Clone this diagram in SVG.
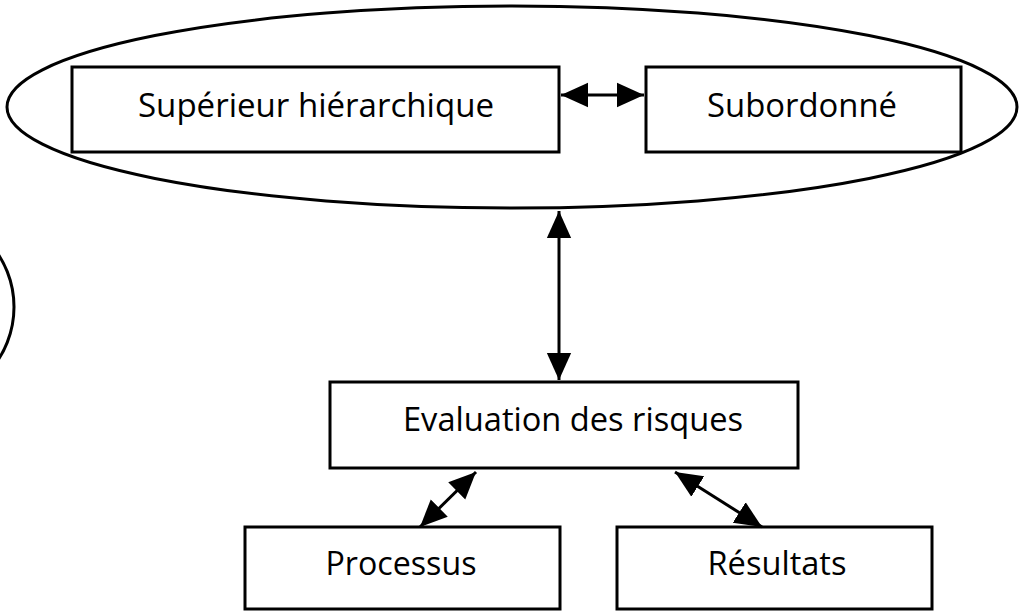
<svg xmlns="http://www.w3.org/2000/svg" width="1020" height="611" viewBox="0 0 1020 611">
<style>
.box{fill:#fff;stroke:#000;stroke-width:3}
.lbl{font-family:"Open Sans",Lato,sans-serif;font-size:33px;fill:#000;text-anchor:middle}
.con{stroke:#000;stroke-width:3;fill:none;marker-start:url(#ah);marker-end:url(#ah)}
</style>
<defs>
<marker id="ah" viewBox="0 0 10 10" refX="10" refY="5" markerWidth="9" markerHeight="9" markerUnits="strokeWidth" orient="auto-start-reverse">
<path d="M0,0.5 L10,5 L0,9.5 Z" fill="#000"/>
</marker>
</defs>
<rect width="1020" height="611" fill="#fff"/>
<g id="group-ellipse"><ellipse cx="512" cy="107" rx="505" ry="101" fill="none" stroke="#000" stroke-width="3"/></g>
<g id="left-arc"><circle cx="-82" cy="307" r="96" fill="none" stroke="#000" stroke-width="3"/></g>
<g id="superieur"><rect class="box" x="72" y="67" width="487" height="85"/><text class="lbl" x="316" y="117" textLength="356" lengthAdjust="spacingAndGlyphs">Supérieur hiérarchique</text></g>
<g id="subordonne"><rect class="box" x="646" y="67" width="315" height="85"/><text class="lbl" x="802" y="117" textLength="190" lengthAdjust="spacingAndGlyphs">Subordonné</text></g>
<g id="evaluation"><rect class="box" x="330" y="382" width="468" height="86"/><text class="lbl" x="573" y="431" textLength="340" lengthAdjust="spacingAndGlyphs">Evaluation des risques</text></g>
<g id="processus"><rect class="box" x="245" y="527" width="315" height="82"/><text class="lbl" x="401" y="575" textLength="151" lengthAdjust="spacingAndGlyphs">Processus</text></g>
<g id="resultats"><rect class="box" x="617" y="527" width="315" height="82"/><text class="lbl" x="777" y="575" textLength="139" lengthAdjust="spacingAndGlyphs">Résultats</text></g>
<g id="connectors">
<line class="con" x1="561" y1="95" x2="644" y2="95"/>
<line class="con" x1="559" y1="211" x2="559" y2="380"/>
<line class="con" x1="476" y1="472" x2="420" y2="527"/>
<line class="con" x1="675" y1="472" x2="762" y2="527"/>
</g>
</svg>
